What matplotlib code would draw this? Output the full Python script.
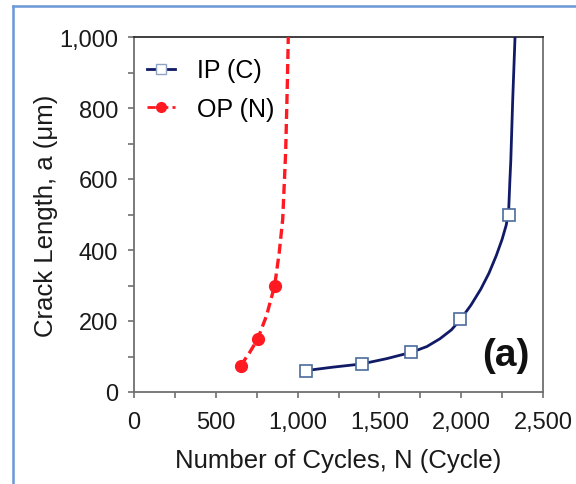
import matplotlib
matplotlib.use("Agg")
import matplotlib.pyplot as plt
from matplotlib.lines import Line2D
from matplotlib.ticker import MultipleLocator, FuncFormatter

# ---- data ----
ip_n = [1050, 1395, 1695, 1995, 2295]
ip_a = [60, 80, 112, 205, 500]
ip_curve_n = [1045, 1216, 1392, 1545, 1697, 1790, 1870, 1940, 1997, 2060, 2120,
              2170, 2215, 2250, 2275, 2290, 2298, 2303, 2315, 2329]
ip_curve_a = [60, 70, 79, 94, 112, 128, 150, 175, 205, 245, 290,
              335, 385, 430, 470, 510, 600, 650, 825, 1000]

op_n = [652, 755, 860]
op_a = [74, 148, 300]
op_curve_n = [652, 705, 755, 810, 860, 888, 909, 927, 937, 943]
op_curve_a = [74, 110, 148, 215, 300, 394, 487, 676, 863, 1000]

x_ticks = [0, 500, 1000, 1500, 2000, 2500]
y_ticks = [0, 200, 400, 600, 800, 1000]

plt.rcParams['font.family'] = ['Liberation Sans', 'DejaVu Sans']

fig = plt.figure(figsize=(5.76, 4.85), dpi=100)
ax = fig.add_axes([134/576, 1-393/485, (543-134)/576, (393-38)/485])

navy = '#101a66'
red = '#ff1a22'

# curves
ax.plot(ip_curve_n, ip_curve_a, color=navy, lw=2.0, zorder=3, solid_joinstyle='round')
ax.plot(op_curve_n, op_curve_a, color=red, lw=2.4, ls=(0, (3, 1.5)), zorder=3)
# markers
ax.plot(ip_n, ip_a, ls='none', marker='s', ms=8, mfc='white', mec='#4b6c9c', mew=1.2, zorder=4)
ax.plot(op_n, op_a, ls='none', marker='o', ms=8.5, mfc=red, mec=red, zorder=4)

ax.set_xlim(0, 2500)
ax.set_ylim(0, 1000)
ax.set_xticks(x_ticks)
ax.set_yticks(y_ticks)
ax.xaxis.set_minor_locator(MultipleLocator(250))
ax.yaxis.set_minor_locator(MultipleLocator(100))
fmt = FuncFormatter(lambda v, p: f"{int(v):,}")
ax.xaxis.set_major_formatter(fmt)
ax.yaxis.set_major_formatter(fmt)

ax.tick_params(which='both', direction='out', color='#707070', width=1.2)
ax.tick_params(which='major', length=4.5, labelsize=17, labelcolor='#1a1a1a')
ax.tick_params(which='minor', length=4.5)
ax.tick_params(axis='x', pad=9)
ax.tick_params(axis='y', pad=7)

for s in ['left', 'bottom', 'right']:
    ax.spines[s].set_color('#707070')
    ax.spines[s].set_linewidth(1.3)
ax.spines['top'].set_color('#303030')
ax.spines['top'].set_linewidth(1.3)

ax.set_xlabel('Number of Cycles, N (Cycle)', fontsize=18.5, color='#1a1a1a', labelpad=11)
ax.set_ylabel('Crack Length, a (\u03bcm)', fontsize=18.5, color='#1a1a1a', labelpad=1)

handles = [
    Line2D([], [], color=navy, lw=2.0, marker='s', ms=7, mfc='white', mec='#8fa4c4', mew=1.0),
    Line2D([], [], color=red, lw=2.0, ls=(0, (3, 1.5)), marker='o', ms=7, mfc=red, mec=red),
]
ax.legend(handles, ['IP (C)', 'OP (N)'], loc='upper left', frameon=False,
          bbox_to_anchor=(0.031, 0.9395), borderaxespad=0, borderpad=0,
          fontsize=18, handlelength=1.15, handletextpad=0.85, labelspacing=0.57,
          numpoints=1)

ax.text(0.908, 0.103, '(a)', transform=ax.transAxes, fontsize=28, fontweight='bold',
        ha='center', va='center', color='#111111')

# figure frame lines (left and top)
fx = 12.5/576
fy = 1 - 7/485
fig.add_artist(Line2D([fx, fx], [0, fy], transform=fig.transFigure, color='#6a98d8', lw=1.8))
fig.add_artist(Line2D([fx, 1], [fy, fy], transform=fig.transFigure, color='#6a98d8', lw=1.8))

fig.savefig('out.png', dpi=100)
